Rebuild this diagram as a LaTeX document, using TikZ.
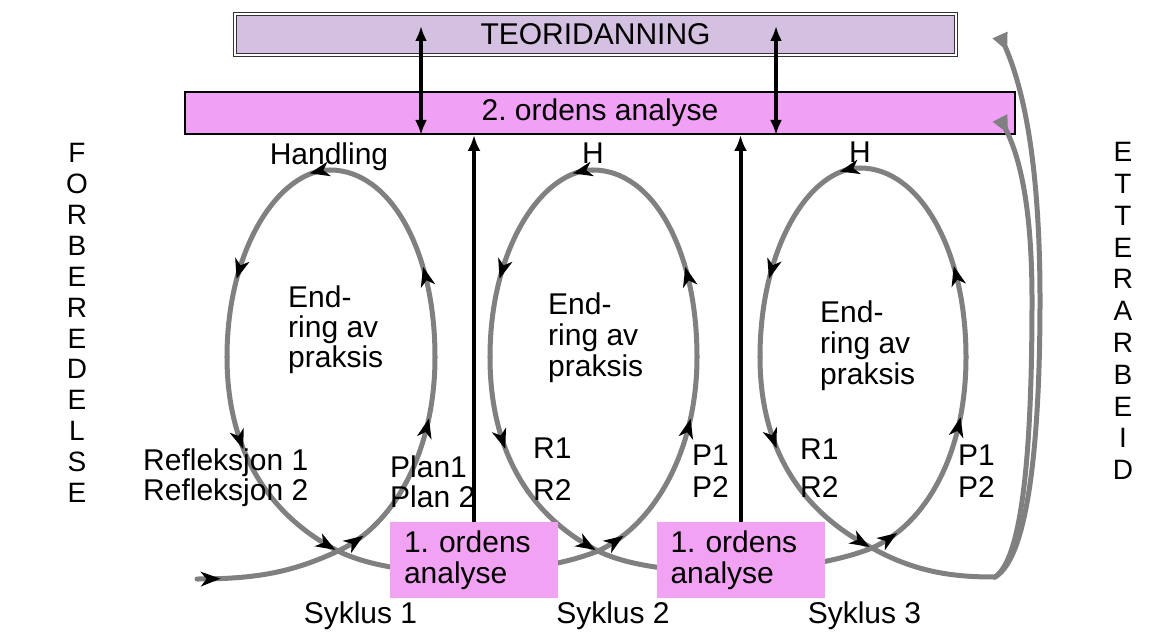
\documentclass[tikz,border=0pt]{standalone}
\usepackage{fontspec}
\setmainfont{Liberation Sans}
\usetikzlibrary{arrows.meta,decorations.markings}
\definecolor{teorifill}{RGB}{212,192,224}
\definecolor{andrefill}{RGB}{240,160,245}
\definecolor{forstefill}{RGB}{242,162,242}
\definecolor{flowgrey}{RGB}{128,128,128}
\tikzset{flow/.style={draw=flowgrey, line width=5pt, line cap=round},
    tipmark/.style={postaction={decorate,decoration={markings,
        mark=at position #1 with {\fill[black] (9pt,0pt) -- (-11pt,7.5pt) -- (-5pt,0pt) -- (-11pt,-7.5pt) -- cycle;}}}},
    teoribox/.style={draw=black!80, line width=1pt, double=white, double distance=1.5pt,
        fill=teorifill, minimum width=721pt, minimum height=41pt, inner sep=0pt},
    andrebox/.style={draw=black, line width=2pt, fill=andrefill,
        minimum width=830pt, minimum height=42pt, inner sep=0pt},
    forstebox/.style={fill=forstefill, minimum height=76pt, text width=140pt,
        inner xsep=14pt, align=left, font=\fontsize{30}{31}\selectfont},
    twoway/.style={{Latex[length=15pt,width=12pt]}-{Latex[length=15pt,width=12pt]}, line width=3.2pt},
    oneway/.style={-{Latex[length=16pt,width=13pt]}, line width=4pt},
    backflow/.style={flow, -{Triangle[reversed,length=18pt,width=15pt]}},
    stack/.style={align=left, inner sep=0pt, anchor=west},
    }

\begin{document}
\frenchspacing
\begin{tikzpicture}[x=1pt,y=-1pt,font=\fontsize{30}{30}\selectfont]
	\useasboundingbox (0,0) rectangle (1153,639);
	% the two analysis levels at the top
	\node[teoribox] (teori) at (595.5,34.5) {TEORIDANNING};
	\node[andrebox] (andre) at (600,113) {2. ordens analyse};
	% points of the spiral
	\coordinate (start) at (197,579);
	\coordinate (c1) at (338,551); \coordinate (r1) at (435,357);
	\coordinate (t1) at (330,170); \coordinate (l1) at (227,357);
	\coordinate (c2) at (598,551); \coordinate (r2) at (697,357);
	\coordinate (t2) at (593,170); \coordinate (l2) at (490,357);
	\coordinate (c3) at (872,548); \coordinate (r3) at (966,357);
	\coordinate (t3) at (860,168); \coordinate (l3) at (760,357);
	\coordinate (turn) at (995,577);
	\coordinate (outerbend) at (1040,300); \coordinate (innerbend) at (1032,300);
	\coordinate (tipup) at (1000,35); \coordinate (tipmid) at (1000,118);
	% syklus 1
	\draw[flow,tipmark=0.1] (start) .. controls +(60,0) and +(-45,21) .. (c1);
	\draw[flow,tipmark=0.09,tipmark=0.69] (c1) .. controls +(57,-26) and +(0,93) .. (r1);
	\draw[flow,tipmark=0.35] (r1) .. controls +(0,-107) and +(60,0) .. (t1);
	\draw[flow,tipmark=0.05,tipmark=0.62] (t1) .. controls +(-50,0) and +(0,-110) .. (l1);
	\draw[flow,tipmark=0.36,tipmark=0.95] (l1) .. controls +(0,95) and +(-68,-35) .. (c1);
	\draw[flow] (c1) .. controls +(60,30) and +(-70,28) .. (c2);
	% syklus 2
	\draw[flow,tipmark=0.09,tipmark=0.69] (c2) .. controls +(57,-26) and +(0,93) .. (r2);
	\draw[flow,tipmark=0.35] (r2) .. controls +(0,-107) and +(60,0) .. (t2);
	\draw[flow,tipmark=0.05,tipmark=0.62] (t2) .. controls +(-50,0) and +(0,-110) .. (l2);
	\draw[flow,tipmark=0.36,tipmark=0.95] (l2) .. controls +(0,95) and +(-68,-35) .. (c2);
	\draw[flow] (c2) .. controls +(60,30) and +(-70,28) .. (c3);
	% syklus 3
	\draw[flow,tipmark=0.09,tipmark=0.69] (c3) .. controls +(57,-26) and +(0,93) .. (r3);
	\draw[flow,tipmark=0.35] (r3) .. controls +(0,-107) and +(60,0) .. (t3);
	\draw[flow,tipmark=0.05,tipmark=0.62] (t3) .. controls +(-50,0) and +(0,-110) .. (l3);
	\draw[flow,tipmark=0.36,tipmark=0.95] (l3) .. controls +(0,95) and +(-68,-35) .. (c3);
	\draw[flow] (c3) .. controls +(45,25) and +(-40,0) .. (turn);
	% back up to the analyses
	\draw[backflow] (turn) .. controls +(35,-20) and +(0,130) .. (outerbend)
		.. controls +(0,-150) and +(20,45) .. (tipup);
	\draw[backflow] (turn) .. controls +(30,-20) and +(0,130) .. (innerbend)
		.. controls +(0,-100) and +(18,35) .. (tipmid);
	% 1. ordens analyse
	\node[forstebox] (forste1) at (474,560) {1. ordens\\analyse};
	\node[forstebox] (forste2) at (740.5,560) {1. ordens\\analyse};
	\draw[oneway] (forste1.north) -- (forste1.north |- andre.south);
	\draw[oneway] (forste2.north) -- (forste2.north |- andre.south);
	\coordinate (dbl1) at (421,26); \coordinate (dbl2) at (776,26);
	\draw[twoway] (dbl1) -- (dbl1 |- andre.south);
	\draw[twoway] (dbl2) -- (dbl2 |- andre.south);
	% labels
	\node[anchor=base] (h1) at (329,165) {Handling};
	\node[anchor=base] (h2) at (593,164) {H};
	\node[anchor=base] (h3) at (860,163) {H};
	\node[stack,font=\fontsize{30}{30}\selectfont] (endring1) at (288,330) {End-\\ring av\\praksis};
	\node[stack,font=\fontsize{30}{31}\selectfont] (endring2) at (548,338) {End-\\ring av\\praksis};
	\node[stack,font=\fontsize{30}{31}\selectfont] (endring3) at (820,346) {End-\\ring av\\praksis};
	\node[stack] (refl) at (143,478) {Refleksjon 1\\Refleksjon 2};
	\node[stack] (plan) at (390,482) {Plan1\\Plan 2};
	\node[stack] (r12a) at (533,469) {R1\\[12pt]R2};
	\node[stack] (p12a) at (692,471) {P1\\[2pt]P2};
	\node[stack] (r12b) at (800,468) {R1\\[8pt]R2};
	\node[stack] (p12b) at (958,471) {P1\\[2pt]P2};
	\node[anchor=base] (syk1) at (360.5,623) {Syklus 1};
	\node[anchor=base] (syk2) at (613,623) {Syklus 2};
	\node[anchor=base] (syk3) at (864.5,623) {Syklus 3};
	\node[align=center,inner sep=0pt,font=\fontsize{28}{30.9}\selectfont] (forb) at (77,323)
		{F\\O\\R\\B\\E\\R\\E\\D\\E\\L\\S\\E};
	\node[align=center,inner sep=0pt,font=\fontsize{28}{31.8}\selectfont] (etter) at (1123,311)
		{E\\T\\T\\E\\R\\A\\R\\B\\E\\I\\D};
\end{tikzpicture}
\end{document}
